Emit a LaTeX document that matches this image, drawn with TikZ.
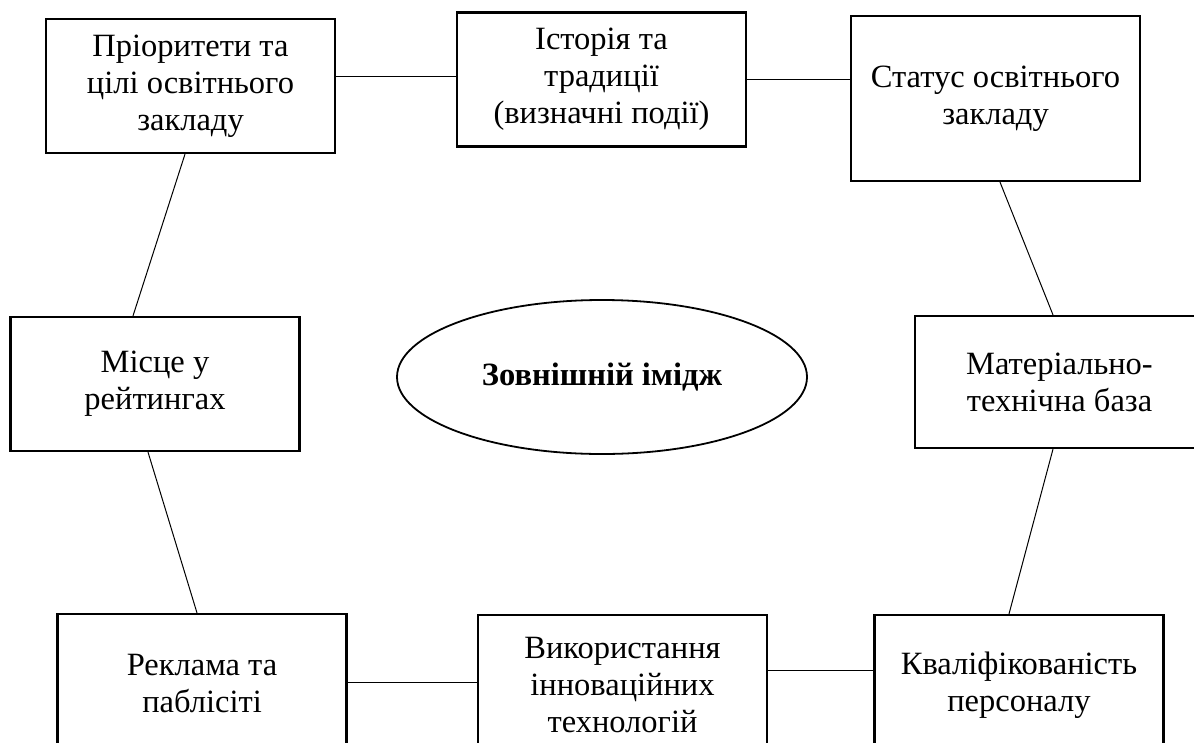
\documentclass[tikz,border=0pt]{standalone}
\usepackage{fontspec}
\setmainfont{Liberation Serif}
\usetikzlibrary{shapes.geometric}

\begin{document}
\begin{tikzpicture}[x=1pt,y=-1pt,
    font=\fontsize{32.5}{37}\selectfont]

      \useasboundingbox (0,0) rectangle (1194,742);
      \clip (0,0) rectangle (1194,742);

      \begin{scope}[every node/.style={draw,line width=2.2pt,align=center,
          minimum width=289pt,minimum height=134pt,inner sep=0pt}]
        \node (prior)   at (190.5,86)  {Пріоритети та\\цілі освітнього\\закладу};
        \node (history) at (601.5,79.5) {Історія та\\традиції\\(визначні події)};
        \node[minimum height=165pt] (status) at (995.5,98.5) {Статус освітнього\\закладу};
        \node (rating)  at (155,384)   {Місце у\\рейтингах};
        \node[minimum height=132pt] (base) at (1059.5,382) {Матеріально-\\технічна база};
        \node[minimum height=140pt] (ads)   at (202,684)   {Реклама та\\паблісіті};
        \node[minimum height=140pt] (innov) at (622.5,685) {Використання\\інноваційних\\технологій};
        \node[minimum height=140pt] (staff) at (1019,685)  {Кваліфікованість\\персоналу};
      \end{scope}

      \node[draw,ellipse,line width=1.8pt,minimum width=410pt,minimum height=154pt,
        font=\fontsize{32.5}{37}\selectfont\bfseries] (image) at (602,377) {Зовнішній імідж};

      \begin{scope}[every edge/.style={draw,line width=1pt}]
        \path ([yshift=10pt]prior.east)    edge ([yshift=3.5pt]history.west);
        \path ([yshift=0.5pt]history.east) edge ([yshift=19.5pt]status.west);
        \path ([xshift=-5.5pt]prior.south) edge ([xshift=-22pt]rating.north);
        \path ([xshift=-7pt]rating.south)  edge ([xshift=-5pt]ads.north);
        \path ([xshift=4.5pt]status.south) edge ([xshift=-6.5pt]base.north);
        \path ([xshift=-6.5pt]base.south)  edge ([xshift=-10pt]staff.north);
        \path ([yshift=2pt]ads.east)       edge ([yshift=3pt]innov.west);
        \path ([yshift=15pt]innov.east)    edge ([yshift=15pt]staff.west);
      \end{scope}

    \end{tikzpicture}
\end{document}
